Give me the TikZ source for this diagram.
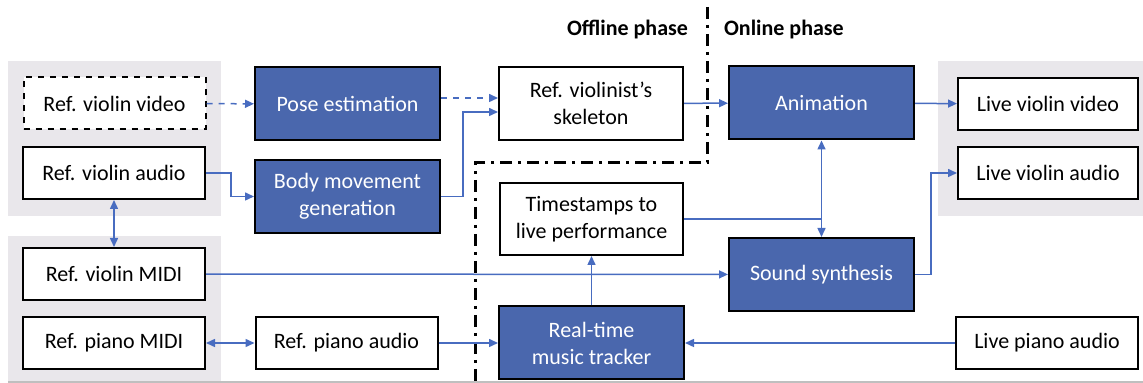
\documentclass[tikz,border=0pt]{standalone}
\usepackage{fontspec}
\setmainfont{Carlito}
\usetikzlibrary{arrows.meta}
\definecolor{procblue}{RGB}{74,103,173}
\definecolor{flowblue}{RGB}{72,108,192}
\definecolor{panelgray}{RGB}{233,231,235}

\begin{document}
\begin{tikzpicture}[x=0.5pt,y=-0.5pt,
every node/.style={
rectangle,
align=center,
font=\fontsize{11}{13.5}\selectfont,
},
box/.style={
draw,
line width=1pt,
fill=white,
minimum width=91pt,
minimum height=26pt,
},
proc/.style={
box,
fill=procblue,
text=white,
minimum width=92.5pt,
minimum height=36.5pt,
},
panel/.style={
fill=panelgray,
draw=none,
},
flow/.style={
draw=flowblue,
line width=0.75pt,
-{Triangle[length=4.5pt,width=4pt]},
},
phase/.style={
draw,
line width=1.5pt,
dash pattern=on 6pt off 3pt on 1.5pt off 3pt,
}]
\useasboundingbox (0,0) rectangle (1143,383);

%grey panels
\fill[panelgray] (8,61) rectangle (221,216);
\fill[panelgray] (8,236) rectangle (221,381);
\fill[panelgray] (938,61) rectangle (1143,216);
\draw[black!25,line width=0.6pt] (8,382) -- (1143,382);

%offline / online border
\draw[phase] (707,7) -- (707,163) -- (475,163) -- (475,383);
\node[anchor=east,font=\fontsize{11}{13.5}\selectfont\bfseries] (offline) at (695,30) {Offline phase};
\node[anchor=west,font=\fontsize{11}{13.5}\selectfont\bfseries] (online) at (717,30) {Online phase};

%reference data
\node[box,dashed] (rvvideo) at (114.5,103.5) {Ref. violin video};
\node[box] (rvaudio) at (114,173) {Ref. violin audio};
\node[box] (rvmidi) at (114,274) {Ref. violin MIDI};
\node[box] (rpmidi) at (114,343) {Ref. piano MIDI};
\node[box] (rpaudio) at (346.5,343) {Ref. piano audio};

%offline processing
\node[proc] (pose) at (347.5,104) {Pose estimation};
\node[proc] (body) at (347.5,196.5) {Body movement\\generation};
\node[box,minimum width=92pt,minimum height=36.5pt] (skel) at (591,103.5) {Ref. violinist's\\skeleton};

%online processing
\node[box,minimum width=91.5pt,minimum height=36pt] (stamps) at (591.5,219) {Timestamps to\\live performance};
\node[proc] (tracker) at (591.5,343) {Real-time\\music tracker};
\node[proc] (anim) at (821.5,103) {Animation};
\node[proc] (synth) at (821.5,274.5) {Sound synthesis};

%live data
\node[box,minimum width=90pt] (lvvideo) at (1048,104) {Live violin video};
\node[box,minimum width=90pt] (lvaudio) at (1048,173) {Live violin audio};
\node[box] (lpaudio) at (1047,343) {Live piano audio};

%connectors
\draw[flow,dashed] (rvvideo) -- (pose);
\draw[flow,dashed] ([yshift=3pt]pose.east) -- ([yshift=3pt]pose.east -| skel.west);
\draw[flow] (rvaudio.east) -- ++(25,0) |- (body.west);
\draw[flow] (body.east) -- ++(22,0) |- ([yshift=-4.25pt]skel.west);
\draw[flow] (skel) -- (anim);
\draw[flow] (anim) -- (lvvideo);
\draw[flow] (synth.east) -- ++(16,0) |- (lvaudio.west);
\draw[flow,{Triangle[length=4.5pt,width=4pt]}-{Triangle[length=4.5pt,width=4pt]}] (anim) -- (synth);
\draw[draw=flowblue,line width=0.75pt] (stamps.east) -- (stamps.east -| anim.south);
\draw[flow,{Triangle[length=4.5pt,width=4pt]}-{Triangle[length=4.5pt,width=4pt]}] (rvaudio) -- (rvmidi);
\draw[flow] (rvmidi) -- (synth);
\draw[flow,{Triangle[length=4.5pt,width=4pt]}-{Triangle[length=4.5pt,width=4pt]}] (rpmidi) -- (rpaudio);
\draw[flow] (rpaudio) -- (tracker);
\draw[flow] (tracker) -- (stamps);
\draw[flow] (lpaudio) -- (tracker);
\end{tikzpicture}
\end{document}
